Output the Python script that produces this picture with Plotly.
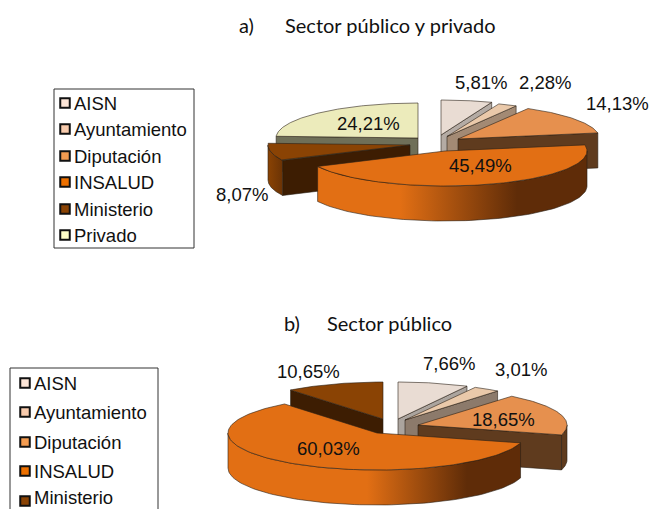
import numpy as np
import plotly.graph_objects as go

categories = ["AISN", "Ayuntamiento", "Diputación", "INSALUD", "Ministerio", "Privado"]
values_a = [5.81, 2.28, 14.13, 45.49, 8.07, 24.21]
values_b = [7.66, 3.01, 18.65, 60.03, 10.65]
title_a = "Sector público y privado"
title_b = "Sector público"

top_colors = ["#e9dcd3", "#eac9aa", "#e6904e", "#e26f14", "#8a4304", "#ecebbb"]
cut_colors_a = ["#b4aba4", "#a38a74", "#5f3b1e", "#5f2c08", "#3d1d02", "#6f6f58"]
cut_colors_b = ["#aba49e", "#8c7a6b", "#5f3b1e", "#5f2c08", "#3d1d02", "#6f6f58"]
wall_ramps = [("#b4aba4", "#b4aba4"), ("#a38a74", "#a38a74"), ("#5f3b1e", "#5f3b1e"),
              ("#e26f14", "#5f2c08"), ("#8a4304", "#6b3305"), ("#6f6f58", "#6f6f58")]
swatch_colors = ["#fce4d6", "#f8cbad", "#f39b50", "#ed7000", "#8a4304", "#ffffc8"]

FONT = "Liberation Sans, Arial, sans-serif"
TITLE_FONT = "Lato, Open Sans, sans-serif"
LABEL_SIZE = 18.5
EDGE = "#2a2015"

chart_a = dict(values=values_a, rx=142, ry=35, depth=35, cuts=cut_colors_a,
               centers=[(441, 135), (447, 136.5), (458, 139), (445, 151), (410, 145), (418, 138)],
               order=[5, 0, 1, 2, 4, 3], grad=(400, 517),
               labels=[(481, 82), (545, 82), (617, 103), (480, 165), (242, 194), (368, 123)])
chart_b = dict(values=values_b, rx=149, ry=37, depth=35, cuts=cut_colors_b,
               centers=[(398, 419), (405, 420), (418, 425), (377, 433), (383, 419)],
               order=[0, 1, 2, 4, 3], grad=(367, 467),
               labels=[(449, 363), (521, 369), (503, 419), (328, 448), (308, 371)])

fig = go.Figure()


def poly(xs, ys, color, gradient=None, width=0.6):
    kw = dict(fillcolor=color)
    if gradient:
        kw = dict(fillgradient=gradient)
    fig.add_trace(go.Scatter(x=list(xs), y=list(ys), mode="lines", fill="toself",
                             line=dict(color=EDGE, width=width), hoverinfo="skip",
                             showlegend=False, **kw))


def rim(cx, cy, rx, ry, deg):
    t = np.radians(deg)
    return cx + rx * np.sin(t), cy - ry * np.cos(t)


def draw_pie(ch):
    vals = np.array(ch["values"], float)
    ends = np.cumsum(vals) / vals.sum() * 360
    starts = np.concatenate([[0], ends[:-1]])
    rx, ry, depth = ch["rx"], ch["ry"], ch["depth"]
    for i in ch["order"]:
        a0, a1 = starts[i], ends[i]
        cx, cy = ch["centers"][i]
        # radial cut faces that look towards the viewer
        for a, vis in ((a0, 180 < a0 < 360), (a1, 0 < a1 < 180)):
            if vis:
                x, y = rim(cx, cy, rx, ry, a)
                poly([cx, x, x, cx, cx], [cy, y, y + depth, cy + depth, cy], ch["cuts"][i])
        # curved outer wall, front half only
        lo, hi = max(a0, 90), min(a1, 270)
        if hi > lo:
            t = np.linspace(lo, hi, 80)
            x, y = rim(cx, cy, rx, ry, t)
            px = np.concatenate([x, x[::-1], x[:1]])
            py = np.concatenate([y, (y + depth)[::-1], y[:1]])
            c_light, c_dark = wall_ramps[i]
            if i == 3:
                g0, g1 = ch["grad"]
                grad = dict(type="horizontal", start=g1, stop=g0,
                            colorscale=[[0, c_dark], [1, c_light]])
            elif c_light != c_dark:
                grad = dict(type="horizontal", start=float(x.min()), stop=float(x.max()),
                            colorscale=[[0, c_light], [1, c_dark]])
            else:
                grad = None
            poly(px, py, c_light, grad)
        # top face
        t = np.linspace(a0, a1, 120)
        x, y = rim(cx, cy, rx, ry, t)
        poly(np.concatenate([[cx], x, [cx]]), np.concatenate([[cy], y, [cy]]), top_colors[i])
    for v, (lx, ly) in zip(ch["values"], ch["labels"]):
        fig.add_annotation(x=lx, y=ly, text=f"{v:.2f}".replace(".", ",") + "%", showarrow=False,
                           font=dict(family=FONT, size=LABEL_SIZE, color="#111"))


draw_pie(chart_a)
draw_pie(chart_b)


def legend(x0, y0, x1, y1, cats, sx, tx, ys, text_ys):
    fig.add_shape(type="rect", x0=x0, y0=y0, x1=x1, y1=y1,
                  line=dict(color="#333", width=1), fillcolor="white", layer="below")
    fig.add_trace(go.Scatter(x=[sx] * len(cats), y=ys, mode="markers", hoverinfo="skip",
                             showlegend=False, cliponaxis=True,
                             marker=dict(symbol="square", size=9.5,
                                         color=swatch_colors[:len(cats)],
                                         line=dict(color="#111", width=2))))
    for c, y in zip(cats, text_ys):
        fig.add_annotation(x=tx, y=y, text=c, showarrow=False, xanchor="left",
                           font=dict(family=FONT, size=LABEL_SIZE, color="#111"))


ys_a = [103, 129, 156, 182, 209, 235]
legend(54, 89, 194, 248, categories, 65, 72, ys_a, ys_a)
legend(10, 368, 158, 540, categories[:5], 25, 32, [383, 412, 442, 471, 501],
       [383, 412, 442, 471, 497])

for x, y, t in [(246, 25, "a)"), (390.5, 25, title_a), (291.5, 323, "b)"), (389.5, 323, title_b)]:
    fig.add_annotation(x=x, y=y, text=t, showarrow=False,
                       font=dict(family=TITLE_FONT, size=20, color="#111"))

fig.update_layout(
    width=650, height=509, margin=dict(l=0, r=0, t=0, b=0),
    paper_bgcolor="white", plot_bgcolor="white", showlegend=False,
    xaxis=dict(range=[0, 650], visible=False, fixedrange=True),
    yaxis=dict(range=[509, 0], visible=False, fixedrange=True),
)
fig.write_html("out.html", config=dict(displayModeBar=False),
               post_script="document.body.style.margin='0';document.body.style.overflow='hidden';")
